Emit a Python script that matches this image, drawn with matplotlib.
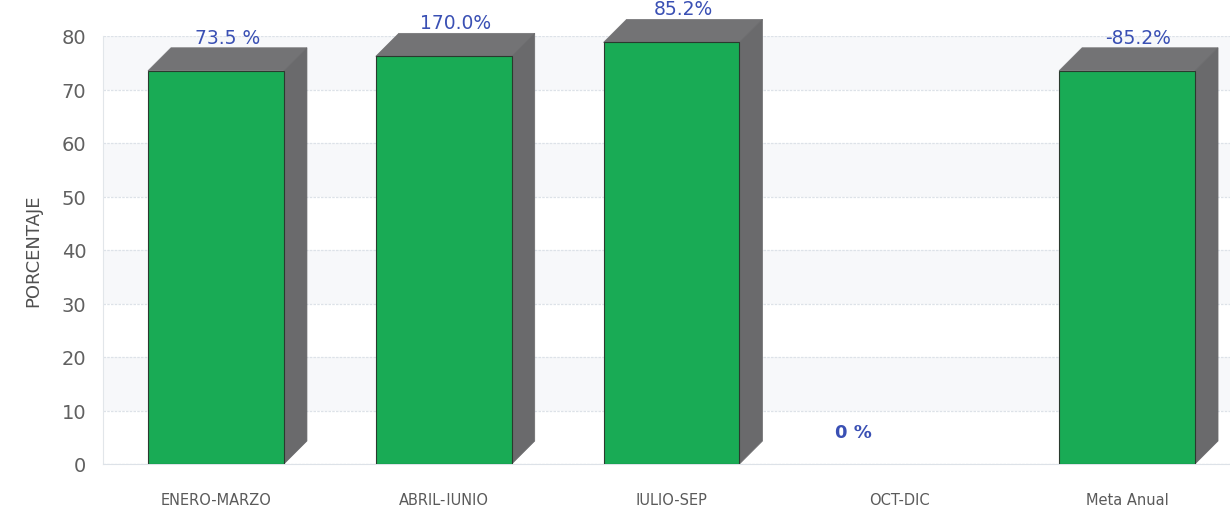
import matplotlib
matplotlib.use("Agg")
import matplotlib.pyplot as plt
from matplotlib.patches import Polygon

categories = ["ENERO-MARZO", "ABRIL-JUNIO", "JULIO-SEP", "OCT-DIC", "Meta Anual"]
values = [73.5, 76.2, 78.8, 0, 73.5]
value_labels = ["73.5 %", "170.0%", "85.2%", "0 %", "-85.2%"]
yticks = [0, 10, 20, 30, 40, 50, 60, 70, 80]

GREEN = "#19ab55"
SIDE = "#6a6a6c"
TOP = "#737375"
BLUE = "#3a50b4"
GRAY = "#5a5a5a"

fig = plt.figure(figsize=(12.3, 5.06), dpi=100)
ax = fig.add_axes([103 / 1230, 41 / 506, 1 - 103 / 1230, (465 - 37) / 506])
ax.set_xlim(-0.496, 4.452)
ax.set_ylim(0, 80)

# faint alternating bands and grid
for i in range(0, 80, 20):
    ax.axhspan(i + 10, i + 20, color="#f7f8fa", zorder=0, lw=0)
for t in yticks:
    ax.axhline(t, color="#dde2e8", lw=0.9, ls=(0, (2, 1)), zorder=0.5)

width = 0.597
xs = list(range(len(categories)))
ax.bar(xs, values, width=width, color=GREEN, edgecolor="#2a3a2e",
       linewidth=[0.8 if v > 0 else 0 for v in values], zorder=3)

fig.canvas.draw()
# depth of 23 px in data units
p0 = ax.transData.transform((0, 0))
inv = ax.transData.inverted()
dxd, dyd = inv.transform((p0[0] + 23, p0[1] + 23))
dx = dxd - 0
dy = dyd - 0

for x, v, lab in zip(xs, values, value_labels):
    if v > 0:
        x0, x1 = x - width / 2, x + width / 2
        top = Polygon([(x0, v), (x0 + dx, v + dy), (x1 + dx, v + dy), (x1, v)],
                      closed=True, facecolor=TOP, edgecolor=TOP, lw=0.5, zorder=2.5, clip_on=False)
        side = Polygon([(x1, 0), (x1, v), (x1 + dx, v + dy), (x1 + dx, dy)],
                       closed=True, facecolor=SIDE, edgecolor=SIDE, lw=0.5, zorder=2.5, clip_on=False)
        ax.add_patch(top)
        ax.add_patch(side)
        ax.text(x + dx / 2, v + dy + 2.0, lab, ha="center", va="center", fontsize=13.5,
                color=BLUE, zorder=5, clip_on=False)
    else:
        ax.text(x - 0.2, 6, lab, ha="center", va="center", fontsize=13,
                color=BLUE, fontweight="bold", zorder=5)

ax.set_xticks(xs)
ax.set_xticklabels(categories, fontsize=10.5, color=GRAY)
ax.set_yticks(yticks)
ax.set_yticklabels([str(t) for t in yticks], fontsize=14, color="#606060")
ax.tick_params(axis="both", length=0)
ax.tick_params(axis="y", pad=12)
ax.tick_params(axis="x", pad=20)
ax.set_ylabel("PORCENTAJE", fontsize=13, color="#505050", labelpad=14)

for s in ["top", "right"]:
    ax.spines[s].set_visible(False)
ax.spines["left"].set_color("#e2e6ea")
ax.spines["bottom"].set_color("#dde2e8")

fig.savefig("out.png", dpi=100)
